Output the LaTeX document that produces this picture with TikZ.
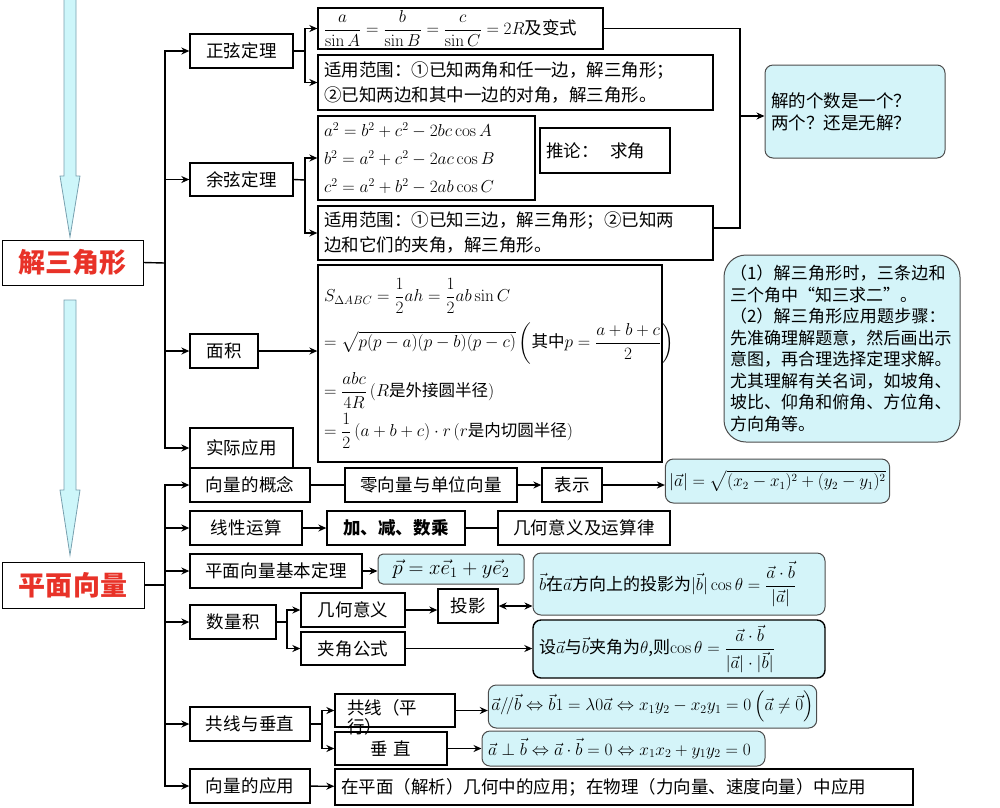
\documentclass[tikz,border=0pt]{standalone}
\usepackage{amsmath}
\usepackage[no-math]{fontspec}
\setmainfont{Noto Sans CJK SC}
\XeTeXlinebreaklocale "zh"
\XeTeXlinebreakskip=0pt plus 1pt
\usetikzlibrary{arrows.meta}
\definecolor{cy}{RGB}{212,244,249}
\definecolor{bigf}{RGB}{205,246,250}
\definecolor{bigd}{RGB}{120,160,175}
\definecolor{tred}{RGB}{232,50,40}
\tikzset{
 box/.style={draw,line width=1.3pt,inner xsep=6pt,inner ysep=0pt,font=\fontsize{17.5}{22}\selectfont,align=left},
 cbox/.style={box,fill=cy,rounded corners=8pt,draw=black!70,line width=1pt},
 ln/.style={line width=1.4pt},
 arr/.style={line width=1.4pt,-{Stealth[length=8pt,width=7pt]}},
}
\newcommand\bx[7][]{\pgfmathsetmacro\bxw{#5-#3-12}\pgfmathsetmacro\bxh{#6-#4}%
 \node[box,text width=\bxw pt,minimum height=\bxh pt,#1] (#2) at ({(#3+#5)/2},{(#4+#6)/2}) {#7};}
\begin{document}
\begin{tikzpicture}[x=1pt,y=-1pt]
\useasboundingbox (0,0) rectangle (1000,807);
% big arrows
\draw[fill=bigf,draw=bigd,line width=0.8pt] (64,0) -- (64,176) -- (60,176) -- (70,237) -- (80,176) -- (76,176) -- (76,0);
\draw[fill=bigf,draw=bigd,line width=0.8pt] (64,300) -- (64,490) -- (60,490) -- (70,555) -- (80,490) -- (76,490) -- (76,300) -- cycle;
% titles
\bx[align=center,font=\fontsize{27}{30}\selectfont\bfseries,text=tred,line width=1pt]{T1}{2}{240}{143}{285}{解三角形}
\bx[align=center,font=\fontsize{27}{30}\selectfont\bfseries,text=tred,line width=1pt]{T2}{2}{562}{144}{608}{平面向量}
% triangle level 1
\bx[align=center]{zx}{190}{34}{293}{68}{正弦定理}
\bx[align=center]{yx}{190}{163}{293}{196}{余弦定理}
\bx[align=center]{mj}{190}{334}{258}{368}{面积}
\bx[align=center]{sj}{190}{428}{293}{468}{实际应用}
% sine
\bx{zf}{318}{8}{603}{49}{\mbox{$\dfrac{a}{\sin A}=\dfrac{b}{\sin B}=\dfrac{c}{\sin C}=2R$及变式}}
\bx[font=\fontsize{17.5}{25}\selectfont]{za}{318}{55}{713}{110}{适用范围：①已知两角和任一边，解三角形；\\②已知两边和其中一边的对角，解三角形。}
% cosine
\bx[font=\fontsize{16.5}{28}\selectfont]{yf}{318}{116}{535}{200}{$a^2=b^2+c^2-2bc\cos A$\\$b^2=a^2+c^2-2ac\cos B$\\$c^2=a^2+b^2-2ab\cos C$}
\bx{tl}{540}{128}{670}{173}{推论：\ \ 求角}
\bx[font=\fontsize{17.5}{25}\selectfont]{ya}{318}{206}{713}{260}{适用范围：①已知三边，解三角形；②已知两\\边和它们的夹角，解三角形。}
% area
\bx[font=\fontsize{16.5}{20}\selectfont]{mf}{318}{265}{662}{462}{\mbox{$S_{\Delta ABC}=\dfrac12 ah=\dfrac12 ab\sin C$}\\[8pt]
\mbox{$=\sqrt{p(p-a)(p-b)(p-c)}\left(\text{其中}p=\dfrac{a+b+c}{2}\right)$}\\[8pt]
\mbox{$=\dfrac{abc}{4R}\left(R\text{是外接圆半径}\right)$}\\[4pt]
\mbox{$=\dfrac12\left(a+b+c\right)\cdot r\left(r\text{是内切圆半径}\right)$}}
% right notes
\bx[cbox]{js}{765}{65}{945}{158}{解的个数是一个？\\两个？还是无解？}
\bx[cbox,rounded corners=22pt,font=\fontsize{17}{21.5}\selectfont,text width=224pt]{nt}{714}{255}{970}{442}{（1）解三角形时，三条边和三个角中“知三求二”。\\（2）解三角形应用题步骤：先准确理解题意，然后画出示意图，再合理选择定理求解。尤其理解有关名词，如坡角、坡比、仰角和俯角、方位角、方向角等。}
% triangle connectors
\draw[ln] (T1.east) -- (165,263) coordinate (b1);
\draw[ln] (b1) -- (165,51);
\foreach \n in {zx,yx,mj,sj} \draw[arr] (b1) |- (\n.west);
\draw[ln] (zx.east) -- (305,51) coordinate (b2);
\draw[arr] (b2) |- (zf.west); \draw[arr] (b2) |- (za.west);
\draw[ln] (yx.east) -- (305,180) coordinate (b3);
\draw[arr] (b3) |- (yf.west); \draw[arr] (b3) |- (ya.west);
\draw[arr] (mj.east) -- (mf.west|-mj.east);
\draw[ln] (zf.east) -| (740,228) coordinate (b4) -- (ya.east|-b4);
\draw[arr] (740,116) -- (js.west|-0,116);
% vector level 1
\bx[align=center]{gn}{190}{468}{310}{502}{向量的概念}
\bx[align=center]{xx}{190}{511}{302}{545}{线性运算}
\bx[align=center]{jb}{190}{554}{362}{588}{平面向量基本定理}
\bx[align=center]{sl}{190}{605}{276}{639}{数量积}
\bx[align=center]{gx}{190}{707}{310}{741}{共线与垂直}
\bx[align=center]{yy}{190}{769}{310}{803}{向量的应用}
\draw[ln] (T2.east) -- (165,585) coordinate (c1);
\draw[ln] (165,485) -- (165,777);
\foreach \n in {gn,xx,jb,sl,gx,yy} \draw[arr] (c1) |- (\n.west);
% row 1
\bx[align=center]{lx}{345}{468}{517}{502}{零向量与单位向量}
\bx[align=center]{bs}{542}{468}{602}{502}{表示}
\node[cbox,align=center,font=\fontsize{16}{20}\selectfont,minimum width=215pt,minimum height=44pt,inner xsep=4pt] (mf1) at (777.5,481) {$|\vec a|=\sqrt{(x_2-x_1)^2+(y_2-y_1)^2}$};
\draw[ln] (gn) -- (lx); \draw[arr] (lx) -- (bs); \draw[arr] (bs) -- (mf1.west|-bs);
% row 2
\bx[align=center,font=\fontsize{17.5}{22}\selectfont\bfseries]{jj}{327}{511}{465}{545}{加、减、数乘}
\bx[align=center]{jh}{498}{511}{670}{545}{几何意义及运算律}
\draw[arr] (xx) -- (jj); \draw[ln] (jj) -- (jh);
% row 3
\bx[cbox,align=center,rounded corners=5pt,font=\fontsize{20}{24}\selectfont]{pe}{378}{554}{524}{584}{\mbox{$\vec p = x\vec e_1 + y\vec e_2$}}
\draw[arr] (jb.east) -- (pe.west|-jb.east);
% dot product
\bx[align=center]{jy}{301}{593}{405}{627}{几何意义}
\bx[align=center]{jg}{301}{632}{405}{665}{夹角公式}
\draw[ln] (sl.east) -- (287,622) coordinate (c2);
\draw[arr] (c2) |- (jy.west); \draw[arr] (c2) |- (jg.west);
\bx[align=center]{ty}{438}{589}{498}{623}{投影}
\bx[cbox,font=\fontsize{17}{22}\selectfont]{tf}{533}{553}{825}{615}{\mbox{$\vec b$在$\vec a$方向上的投影为$|\vec b|\cos\theta=\dfrac{\vec a\cdot\vec b}{|\vec a|}$}}
\bx[cbox,draw=black,line width=1.4pt,font=\fontsize{17}{22}\selectfont]{jf}{533}{620}{825}{678}{\mbox{设$\vec a$与$\vec b$夹角为$\theta$,则$\cos\theta=\dfrac{\vec a\cdot\vec b}{|\vec a|\cdot|\vec b|}$}}
\draw[arr] (jy.east) -- (ty.west|-jy.east);
\draw[line width=1.4pt,{Stealth[length=8pt,width=7pt]}-{Stealth[length=8pt,width=7pt]}] (ty.east) -- (tf.west|-ty.east);
\draw[arr] (jg.east) -- (jf.west|-jg.east);
% collinear
\bx{gxp}{335}{694}{455}{727}{}
\node[font=\fontsize{17.5}{19}\selectfont,anchor=north west,inner sep=0pt,text width=110pt,align=left] (gxt) at (347,699) {共线（平\\行）};
\bx[align=center]{cz}{335}{732}{447}{765}{垂\ 直}
\draw[ln] (gx.east) -- (322,724) coordinate (c3);
\draw[arr] (c3) |- (gxp.west); \draw[arr] (c3) |- (cz.west);
\node[cbox,align=center,font=\fontsize{16.5}{22}\selectfont,minimum width=325pt,minimum height=43pt,inner xsep=3pt] (pf) at (652.5,706.5) {$\vec a/\!/\vec b\Leftrightarrow\vec b1=\lambda0\vec a\Leftrightarrow x_1y_2-x_2y_1=0\left(\vec a\ne\vec 0\right)$};
\bx[cbox,font=\fontsize{16.5}{22}\selectfont]{vf}{482}{731}{765}{766}{\mbox{$\vec a\perp\vec b\Leftrightarrow\vec a\cdot\vec b=0\Leftrightarrow x_1x_2+y_1y_2=0$}}
\draw[arr] (gxp.east) -- (pf.west|-gxp.east);
\draw[arr] (cz.east) -- (vf.west|-cz.east);
% application
\bx{ya2}{335}{769}{913}{805}{在平面（解析）几何中的应用；在物理（力向量、速度向量）中应用}
\draw[arr] (yy) -- (ya2);
\end{tikzpicture}
\end{document}
